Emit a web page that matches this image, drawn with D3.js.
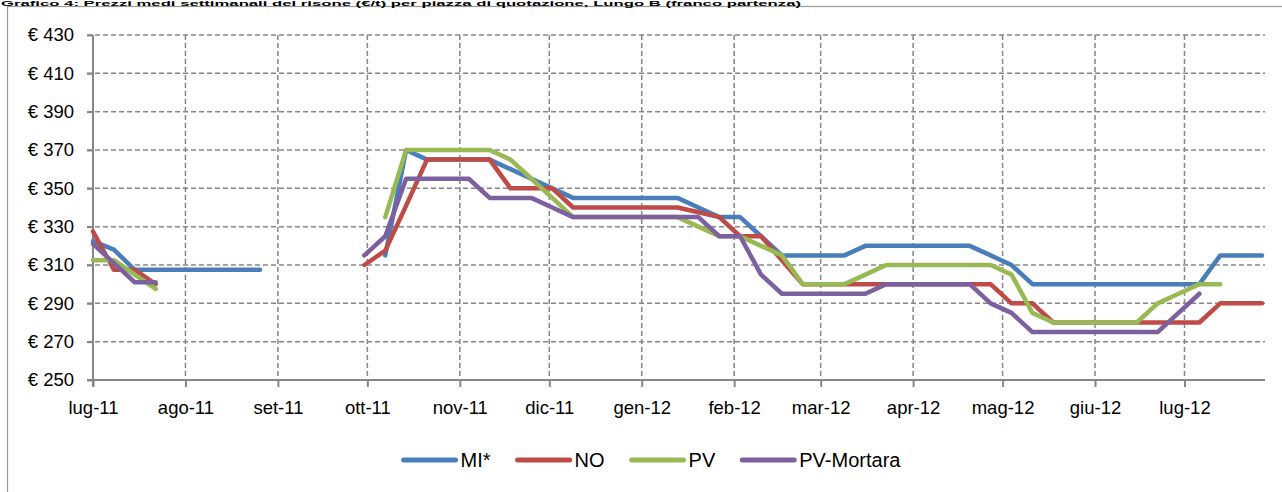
<!DOCTYPE html>
<html><head><meta charset="utf-8">
<script src="https://cdn.jsdelivr.net/npm/d3@7"></script>
<style>
html,body{margin:0;padding:0;background:#fff;overflow:hidden}
svg{display:block}
text{font-family:"Liberation Sans",Arial,sans-serif;fill:#000}
</style></head><body>
<script>
const dates = ["2011-07-01","2011-07-08","2011-07-15","2011-07-22","2011-07-29","2011-08-05","2011-08-12","2011-08-19","2011-08-26",
"2011-09-02","2011-09-09","2011-09-16","2011-09-23","2011-09-30","2011-10-07","2011-10-14","2011-10-21","2011-10-28",
"2011-11-04","2011-11-11","2011-11-18","2011-11-25","2011-12-02","2011-12-09","2011-12-16","2011-12-23","2011-12-30",
"2012-01-06","2012-01-13","2012-01-20","2012-01-27","2012-02-03","2012-02-10","2012-02-17","2012-02-24","2012-03-02",
"2012-03-09","2012-03-16","2012-03-23","2012-03-30","2012-04-06","2012-04-13","2012-04-20","2012-04-27","2012-05-04",
"2012-05-11","2012-05-18","2012-05-25","2012-06-01","2012-06-08","2012-06-15","2012-06-22","2012-06-29","2012-07-06",
"2012-07-13","2012-07-20","2012-07-27"];

const MI = [322.5,318,307.5,307.5,307.5,307.5,307.5,307.5,307.5,
 null,null,null,null,null,
 315,370,365,365,365,365,360,355,350,345,345,345,345,345,345,340,335,335,325,315,315,315,315,
 320,320,320,320,320,320,315,310,300,300,300,300,300,300,300,300,300,315,315,315];
const NO = [327.5,307.5,307.5,300,
 null,null,null,null,null,null,null,null,null,
 310,317.5,341,365,365,365,365,350,350,350,340,340,340,340,340,340,337.5,335,325,325,312.5,
 300,300,300,300,300,300,300,300,300,300,290,290,280,280,280,280,280,280,280,280,290,290,290];
const PV = [312.5,312.5,305,297.5,
 null,null,null,null,null,null,null,null,null,null,
 335,370,370,370,370,370,365,355,345,335,335,335,335,335,335,330,325,325,320,315,300,300,300,305,
 310,310,310,310,310,310,305,285,280,280,280,280,280,290,295,300,300,null,null];
const PVM = [321,311,301,301,
 null,null,null,null,null,null,null,null,null,
 315,325,355,355,355,355,345,345,345,340,335,335,335,335,335,335,335,325,325,305,295,295,295,295,295,
 300,300,300,300,300,290,285,275,275,275,275,275,275,275,285,295,null,null,null];

const seriesNames = ["MI*","NO","PV","PV-Mortara"];
const seriesColors = ["#4A7EBB","#BE4B48","#98B954","#7D60A0"];
const seriesValues = [MI, NO, PV, PVM];

const monthTicks = ["2011-07-01","2011-08-01","2011-09-01","2011-10-01","2011-11-01","2011-12-01","2012-01-01",
 "2012-02-01","2012-03-01","2012-04-01","2012-05-01","2012-06-01","2012-07-01"];
const monthLabels = ["lug-11","ago-11","set-11","ott-11","nov-11","dic-11","gen-12","feb-12","mar-12","apr-12","mag-12","giu-12","lug-12"];
const yTicks = [250,270,290,310,330,350,370,390,410,430];
const xDomain = ["2011-07-01","2012-07-28"];
const title = "Grafico 4: Prezzi medi settimanali del risone (€/t) per piazza di quotazione, Lungo B (franco partenza)";

const W = 1282, H = 492;
const L = 93, R = 1265, T = 35, B = 380;
const parse = d3.utcParse("%Y-%m-%d");

const svg = d3.select("body").append("svg").attr("width", W).attr("height", H);

// chart frame
svg.append("rect").attr("x", 7.5).attr("y", 6.5).attr("width", 1290).attr("height", 500)
  .attr("fill", "none").attr("stroke", "#9a9a9a").attr("stroke-width", 1.2);

// title strip at the very top (only a thin band is visible in the reference)
svg.append("text").attr("x", 1).attr("y", 5.5).attr("font-size", 7).attr("font-weight", "bold")
  .attr("textLength", 800).attr("lengthAdjust", "spacingAndGlyphs").text(title);

const x = d3.scaleUtc().domain(xDomain.map(parse)).range([L, R]);
const y = d3.scaleLinear().domain([250, 430]).range([B, T]);

const grid = svg.append("g");
grid.selectAll("line.h").data(yTicks.filter(v => v !== 250)).join("line")
  .attr("x1", L - 6).attr("x2", R).attr("y1", d => y(d)).attr("y2", d => y(d))
  .attr("stroke", "#868686").attr("stroke-width", 1.5).attr("stroke-dasharray", "5,3");
grid.selectAll("line.v").data(monthTicks.slice(1)).join("line")
  .attr("x1", d => x(parse(d))).attr("x2", d => x(parse(d))).attr("y1", T).attr("y2", B)
  .attr("stroke", "#868686").attr("stroke-width", 1.5).attr("stroke-dasharray", "5,3");

// y axis
const yAxis = d3.axisLeft(y).tickValues(yTicks).tickSize(6).tickPadding(13).tickFormat(d => "€ " + d);
const gy = svg.append("g").attr("transform", `translate(${L},0)`).call(yAxis);
gy.select(".domain").attr("stroke", "#868686").attr("stroke-width", 2).attr("d", `M-0,${T}V${B + 7}`);
gy.selectAll(".tick line").attr("stroke", "#868686").attr("stroke-width", 2);
gy.selectAll(".tick text").attr("font-size", 18.5).attr("font-family", "Liberation Sans, Arial, sans-serif").attr("fill", "#000");

// x axis
const xAxis = d3.axisBottom(x).tickValues(monthTicks.map(parse)).tickSize(7).tickPadding(14)
  .tickFormat((d, i) => monthLabels[i]);
const gx = svg.append("g").attr("transform", `translate(0,${B})`).call(xAxis);
gx.select(".domain").attr("stroke", "#868686").attr("stroke-width", 2).attr("d", `M${L - 6},0H${R}`);
gx.selectAll(".tick line").attr("stroke", "#868686").attr("stroke-width", 2);
gx.selectAll(".tick text").attr("font-size", 18.5).attr("font-family", "Liberation Sans, Arial, sans-serif").attr("fill", "#000");

// lines
const lineGen = d3.line().defined(d => d.v != null).x(d => x(d.t)).y(d => y(d.v));
seriesValues.forEach((vals, si) => {
  const pts = vals.map((v, i) => ({t: parse(dates[i]), v}));
  svg.append("path").datum(pts).attr("d", lineGen)
    .attr("fill", "none").attr("stroke", seriesColors[si]).attr("stroke-width", 4.5)
    .attr("stroke-linejoin", "round").attr("stroke-linecap", "round");
});

// legend
const lg = svg.append("g");
const items = lg.selectAll("g").data(seriesNames).join("g");
items.append("line").attr("x1", 0).attr("x2", 52).attr("y1", 0).attr("y2", 0)
  .attr("stroke", (d, i) => seriesColors[i]).attr("stroke-width", 5).attr("stroke-linecap", "round");
items.append("text").attr("x", 57).attr("y", 0).attr("dy", "0.35em").attr("font-size", 20).text(d => d);
let cx = 0;
const offs = [];
items.each(function() {
  const w = d3.select(this).select("text").node().getComputedTextLength();
  offs.push(cx);
  cx += 57 + w + 27;
});
const total = cx - 27;
const startX = 652 - total / 2;
items.attr("transform", (d, i) => `translate(${startX + offs[i]},460)`);
</script>
</body></html>
